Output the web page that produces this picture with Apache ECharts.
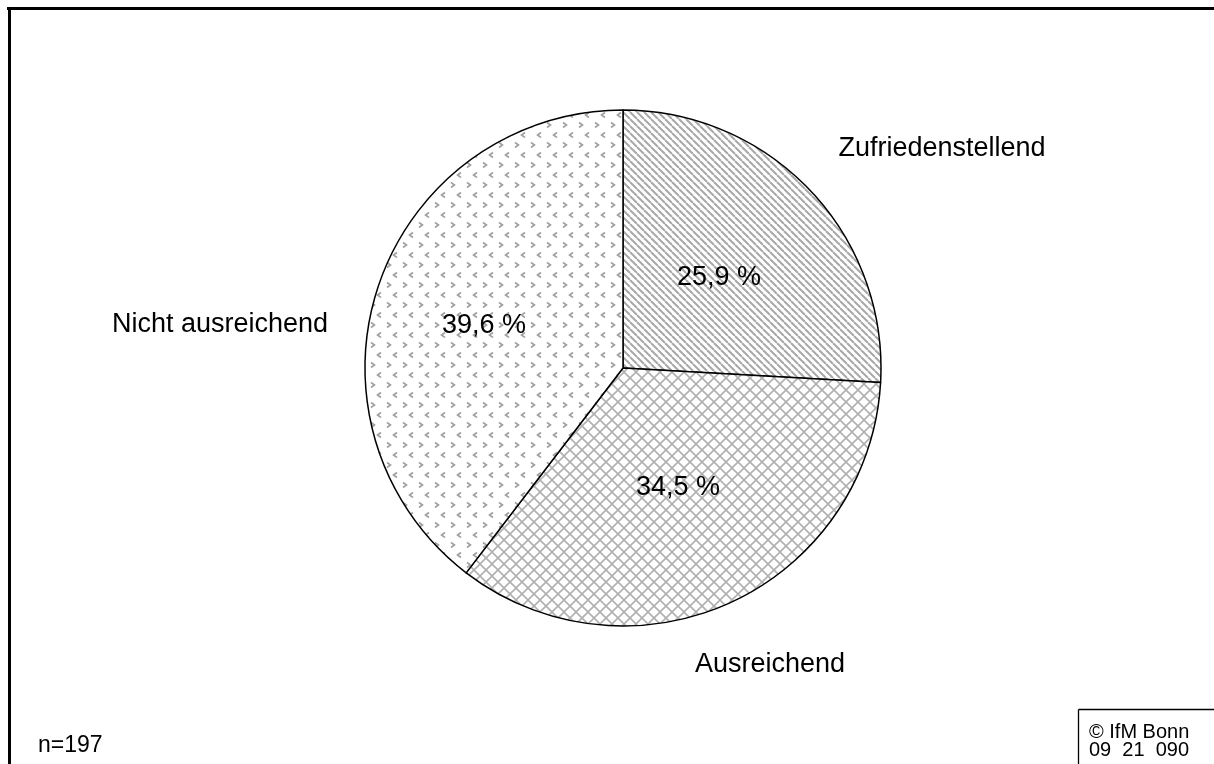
<!DOCTYPE html>
<html>
<head>
<meta charset="utf-8">
<script src="https://cdn.jsdelivr.net/npm/echarts@6/dist/echarts.min.js"></script>
<style>
html,body{margin:0;padding:0;background:#fff;}
#chart{width:1214px;height:764px;}
</style>
</head>
<body>
<div id="chart"></div>
<script>
// ---- data ----
const categories = ['Zufriedenstellend', 'Ausreichend', 'Nicht ausreichend'];
const values = [25.9, 34.5, 39.6];
const sampleNote = 'n=197';
const sourceLines = ['© IfM Bonn', '09  21  090'];

// ---- patterns ----
function makeCanvas(w, h) { const c = document.createElement('canvas'); c.width = w; c.height = h; return c; }
function diagPattern() {
  const s = 7, c = makeCanvas(s, s), g = c.getContext('2d');
  g.fillStyle = '#fff'; g.fillRect(0, 0, s, s);
  g.strokeStyle = '#a8a8a8'; g.lineWidth = 2;
  for (const o of [-s, 0, s]) { g.beginPath(); g.moveTo(o, 0); g.lineTo(o + s, s); g.stroke(); }
  return c;
}
function crossPattern() {
  const s = 12, c = makeCanvas(s, s), g = c.getContext('2d');
  g.fillStyle = '#fff'; g.fillRect(0, 0, s, s);
  g.strokeStyle = '#b0b0b0'; g.lineWidth = 1.6;
  for (const o of [-s, 0, s]) {
    g.beginPath(); g.moveTo(o, 0); g.lineTo(o + s, s); g.stroke();
    g.beginPath(); g.moveTo(o + s, 0); g.lineTo(o, s); g.stroke();
  }
  return c;
}
function chevronPattern() {
  const w = 16, h = 20, c = makeCanvas(w, h), g = c.getContext('2d');
  g.fillStyle = '#fff'; g.fillRect(0, 0, w, h);
  g.strokeStyle = '#a0a0a0'; g.lineWidth = 1.6;
  g.beginPath(); g.moveTo(3, 2.5); g.lineTo(6.5, 5); g.lineTo(3, 7.5); g.stroke();
  g.beginPath(); g.moveTo(13, 12.5); g.lineTo(9.5, 15); g.lineTo(13, 17.5); g.stroke();
  return c;
}
const patterns = [diagPattern(), crossPattern(), chevronPattern()];

const outerLabelPos = [[942, 149], [770, 665], [220, 325]];
const fmt = v => v.toFixed(1).replace('.', ',') + ' %';

const chart = echarts.init(document.getElementById('chart'), null, { renderer: 'canvas' });
const font = 'Liberation Sans, Arial, sans-serif';

chart.setOption({
  backgroundColor: '#fff',
  animation: false,
  series: [
    {
      type: 'pie',
      center: [623, 368],
      radius: [0, 258],
      startAngle: 90,
      clockwise: true,
      silent: true,
      data: categories.map((n, i) => ({
        name: n, value: values[i],
        itemStyle: { color: { image: patterns[i], repeat: 'repeat' } }
      })),
      itemStyle: { borderColor: '#000', borderWidth: 1.5 },
      label: {
        show: true, position: 'inner',
        formatter: p => fmt(p.value),
        color: '#000', fontSize: 27, fontFamily: font
      },
      labelLayout: p => (p.dataIndex === 2 ? { dx: -14 } : {}),
      labelLine: { show: false }
    },
    {
      type: 'pie',
      center: [623, 368],
      radius: [0, 258],
      startAngle: 90,
      silent: true,
      z: 1,
      data: categories.map((n, i) => ({ name: n, value: values[i] })),
      itemStyle: { color: 'rgba(0,0,0,0)', borderWidth: 0 },
      label: {
        show: true, position: 'outside',
        formatter: p => p.name,
        color: '#000', fontSize: 27, fontFamily: font
      },
      labelLine: { show: false },
      labelLayout: p => ({
        x: outerLabelPos[p.dataIndex][0],
        y: outerLabelPos[p.dataIndex][1],
        align: 'center', verticalAlign: 'middle'
      })
    }
  ],
  graphic: [
    { type: 'line', shape: { x1: 7, y1: 8.5, x2: 1214, y2: 8.5 }, style: { stroke: '#000', lineWidth: 3 } },
    { type: 'line', shape: { x1: 9.5, y1: 7, x2: 9.5, y2: 764 }, style: { stroke: '#000', lineWidth: 3 } },
    { type: 'line', shape: { x1: 1078.5, y1: 709.5, x2: 1214, y2: 709.5 }, style: { stroke: '#000', lineWidth: 1.3 } },
    { type: 'line', shape: { x1: 1078.5, y1: 709.5, x2: 1078.5, y2: 764 }, style: { stroke: '#000', lineWidth: 1.3 } },
    { type: 'text', left: 38, top: 734, style: { text: sampleNote, font: '23px ' + font, fill: '#000' } },
    { type: 'text', left: 1089, top: 722, style: { text: sourceLines.join('\n'), font: '20px ' + font, fill: '#000', lineHeight: 18 } }
  ]
});
</script>
</body>
</html>
